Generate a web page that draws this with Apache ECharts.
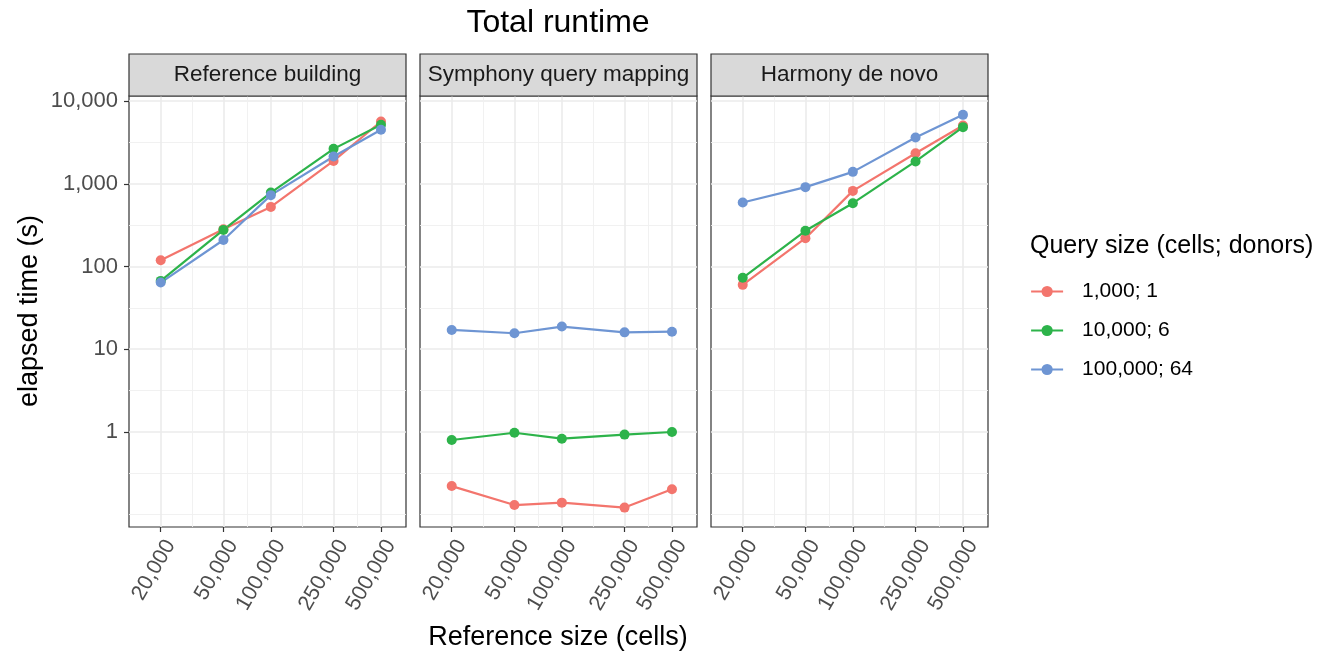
<!DOCTYPE html>
<html>
<head>
<meta charset="utf-8">
<script src="https://cdn.jsdelivr.net/npm/echarts@6/dist/echarts.min.js"></script>
<style>html,body{margin:0;padding:0;background:#fff}#c{width:1330px;height:660px}</style>
</head>
<body>
<div id="c"></div>
<script>
// ---- data ----
const referenceSizes = [20000, 50000, 100000, 250000, 500000];
const panelNames = ['Reference building', 'Symphony query mapping', 'Harmony de novo'];
const querySizes = ['1,000; 1', '10,000; 6', '100,000; 64'];
const yTickValues = [1, 10, 100, 1000, 10000];
const xTickValues = [20000, 50000, 100000, 250000, 500000];
const yMinorValues = [0.1, 0.3162, 3.162, 31.62, 316.2, 3162];
const xMinorValues = [31623, 70711, 158114, 353553];

// Reference building
const refBuild_1k = [119, 282, 525, 1890, 5650];
const refBuild_10k = [67, 277, 783, 2640, 5150];
const refBuild_100k = [64, 209, 728, 2135, 4490];
// Symphony query mapping
const symphony_1k = [0.222, 0.131, 0.140, 0.122, 0.203];
const symphony_10k = [0.80, 0.98, 0.83, 0.93, 1.0];
const symphony_100k = [17.1, 15.6, 18.8, 16.0, 16.3];
// Harmony de novo
const harmony_1k = [60, 220, 820, 2340, 5050];
const harmony_10k = [73, 270, 582, 1860, 4830];
const harmony_100k = [593, 910, 1393, 3620, 6800];

const panelData = [
  [refBuild_1k, refBuild_10k, refBuild_100k],
  [symphony_1k, symphony_10k, symphony_100k],
  [harmony_1k, harmony_10k, harmony_100k]
];

// ---- styling / layout ----
const colors = ['#F3756D', '#2DB34A', '#6E95D3'];
const FONT = '"Liberation Sans", Arial, Helvetica, sans-serif';
const gridLefts = [129, 420, 711];
const gridW = 277, gridTop = 96, gridH = 431;
const xMin = 12580, xMax = 720700;
const yMin = 0.0711, yMax = 11494;

const grids = [], xAxes = [], yAxes = [], series = [], graphics = [];
const fmt = v => Math.round(v).toLocaleString('en-US');

panelNames.forEach((pname, i) => {
  grids.push({left: gridLefts[i], top: gridTop, width: gridW, height: gridH,
    show: true, borderColor: '#333333', borderWidth: 1.2, backgroundColor: '#fff'});
  // major x axis
  xAxes.push({type: 'log', logBase: 10, gridIndex: i, min: xMin, max: xMax,
    axisLine: {show: false},
    axisTick: {show: true, length: 5, lineStyle: {color: '#333', width: 1.2}, customValues: xTickValues},
    axisLabel: {show: true, customValues: xTickValues, formatter: fmt, rotate: 60, align: 'right', verticalAlign: 'top',
      margin: 9, fontSize: 21.5, color: '#4D4D4D', fontFamily: FONT},
    splitLine: {show: true, lineStyle: {color: '#EBEBEB', width: 1.6}},
    minorTick: {show: false}, minorSplitLine: {show: false}});
  // minor x axis (grid lines only)
  xAxes.push({type: 'log', logBase: 10, gridIndex: i, min: xMin, max: xMax,
    axisLine: {show: false},
    axisTick: {show: false, customValues: xMinorValues},
    axisLabel: {show: false, customValues: xMinorValues},
    splitLine: {show: true, lineStyle: {color: '#EFEFEF', width: 0.9}}});
  // major y axis
  yAxes.push({type: 'log', logBase: 10, gridIndex: i, min: yMin, max: yMax,
    axisLine: {show: false},
    axisTick: {show: i === 0, length: 5, lineStyle: {color: '#333', width: 1.2}, customValues: yTickValues},
    axisLabel: {show: i === 0, customValues: yTickValues, formatter: fmt, margin: 11,
      fontSize: 22, color: '#4D4D4D', fontFamily: FONT},
    splitLine: {show: true, lineStyle: {color: '#EBEBEB', width: 1.6}}});
  // minor y axis
  yAxes.push({type: 'log', logBase: 10, gridIndex: i, min: yMin, max: yMax,
    axisLine: {show: false},
    axisTick: {show: false, customValues: yMinorValues},
    axisLabel: {show: false, customValues: yMinorValues},
    splitLine: {show: true, lineStyle: {color: '#EFEFEF', width: 0.9}}});

  panelData[i].forEach((vals, k) => {
    series.push({type: 'line', name: querySizes[k], xAxisIndex: i * 2, yAxisIndex: i * 2,
      data: referenceSizes.map((x, j) => [x, vals[j]]),
      symbol: 'circle', symbolSize: 10, showSymbol: true,
      itemStyle: {color: colors[k]}, lineStyle: {color: colors[k], width: 2.2},
      z: 3, silent: true, animation: false});
  });

  // strip
  graphics.push({type: 'rect', shape: {x: gridLefts[i], y: 54, width: gridW, height: gridTop - 54},
    style: {fill: '#D9D9D9', stroke: '#333333', lineWidth: 1.2}, z: 10});
  graphics.push({type: 'text', x: gridLefts[i] + gridW / 2, y: 75,
    style: {text: pname, fill: '#1A1A1A', font: '22.5px ' + FONT, textAlign: 'center', textVerticalAlign: 'middle'}, z: 11});
});

graphics.push({type: 'text', x: 558, y: 23,
  style: {text: 'Total runtime', fill: '#000', font: '32px ' + FONT, textAlign: 'center', textVerticalAlign: 'middle'}});
graphics.push({type: 'text', x: 558, y: 638,
  style: {text: 'Reference size (cells)', fill: '#000', font: '27px ' + FONT, textAlign: 'center', textVerticalAlign: 'middle'}});
graphics.push({type: 'text', x: 30, y: 311, rotation: Math.PI / 2,
  style: {text: 'elapsed time (s)', fill: '#000', font: '27px ' + FONT, textAlign: 'center', textVerticalAlign: 'middle'}});
graphics.push({type: 'text', x: 1030, y: 246,
  style: {text: 'Query size (cells; donors)', fill: '#000', font: '25px ' + FONT, textAlign: 'left', textVerticalAlign: 'middle'}});

const chart = echarts.init(document.getElementById('c'), null, {renderer: 'canvas'});
chart.setOption({
  animation: false,
  backgroundColor: '#fff',
  grid: grids, xAxis: xAxes, yAxis: yAxes, series: series,
  legend: {data: querySizes, orient: 'vertical', left: 1025, top: 276, itemWidth: 32, itemHeight: 14, itemGap: 18,
    lineStyle: {width: 2.2},
    textStyle: {fontSize: 21, color: '#000', fontFamily: FONT, padding: [0, 0, 0, 14]}, selectedMode: false},
  graphic: graphics
});
</script>
</body>
</html>
